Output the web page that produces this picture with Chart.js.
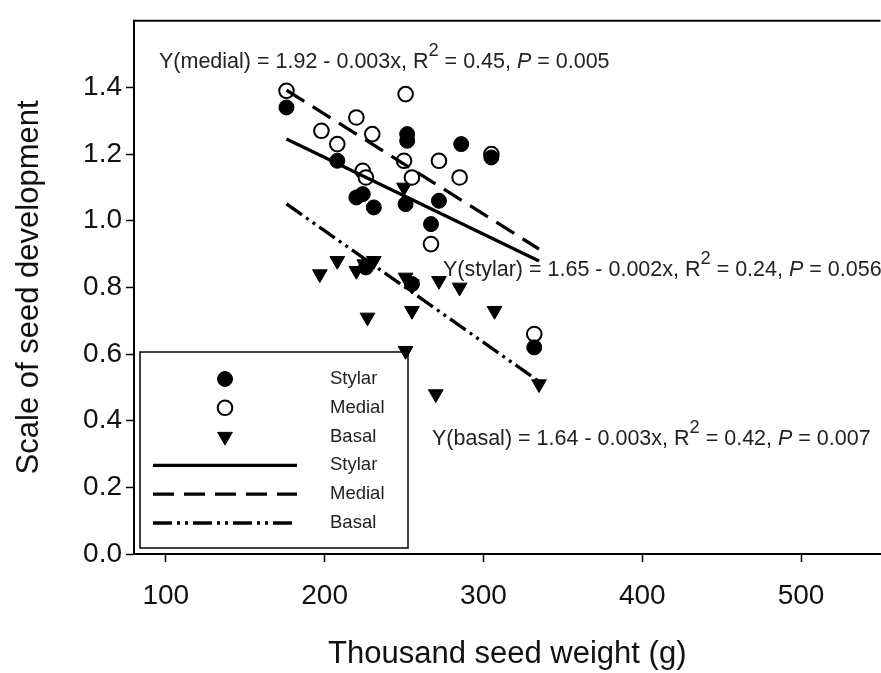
<!DOCTYPE html>
<html>
<head>
<meta charset="utf-8">
<script src="https://cdn.jsdelivr.net/npm/chart.js@4.4.1/dist/chart.umd.min.js"></script>
<style>
  html, body { margin: 0; padding: 0; background: #fff; overflow: hidden; }
  #wrap { position: relative; width: 890px; height: 673px; }
</style>
</head>
<body>
<div id="wrap"><canvas id="c" width="890" height="673"></canvas></div>
<script>
// Axis ticks
const xTicks = [100, 200, 300, 400, 500];
const yTicks = [0.0, 0.2, 0.4, 0.6, 0.8, 1.0, 1.2, 1.4];

// Seed development score by seed position vs thousand seed weight (g)
const stylarWeight = [176, 208, 220, 224, 231, 252, 252, 251, 272, 267, 286, 305, 255, 332, 226];
const stylarScale  = [1.34, 1.18, 1.07, 1.08, 1.04, 1.26, 1.24, 1.05, 1.06, 0.99, 1.23, 1.19, 0.81, 0.62, 0.86];

const medialWeight = [176, 198, 208, 220, 230, 224, 226, 251, 250, 255, 272, 285, 305, 267, 332];
const medialScale  = [1.39, 1.27, 1.23, 1.31, 1.26, 1.15, 1.13, 1.38, 1.18, 1.13, 1.18, 1.13, 1.20, 0.93, 0.66];

const basalWeight = [197, 208, 220, 225, 231, 251, 255, 272, 285, 227, 255, 307, 251, 270, 335, 250];
const basalScale  = [0.84, 0.88, 0.85, 0.87, 0.88, 0.83, 0.81, 0.82, 0.80, 0.71, 0.73, 0.73, 0.61, 0.48, 0.51, 1.10];

// Linear regressions: Y = intercept + slope * x
const fitNames      = ['stylar', 'medial', 'basal'];
const fitIntercepts = [1.65, 1.92, 1.64];
const fitSlopes     = [-0.0023, -0.003, -0.00335];
const fitR2         = [0.24, 0.45, 0.42];
const fitP          = ['0.056', '0.005', '0.007'];

const FONT = '"Liberation Sans", Arial, Helvetica, sans-serif';

const allWeights = stylarWeight.concat(medialWeight, basalWeight);
const xLo = Math.min(...allWeights);
const xHi = Math.max(...allWeights);

function pts(xs, ys) { return xs.map((x, i) => ({ x: x, y: ys[i] })); }
function fitLine(k) {
  return [xLo, xHi].map(x => ({ x: x, y: fitIntercepts[k] + fitSlopes[k] * x }));
}

const dashes = [[], [21, 10], [19, 5, 3, 5, 3, 5]];
const labels = ['Stylar', 'Medial', 'Basal'];

const pointSets = [
  { label: 'Stylar', data: pts(stylarWeight, stylarScale), pointStyle: 'circle', pointRadius: 7.5,
    backgroundColor: '#000', borderColor: '#000', pointBorderWidth: 1, pointRotation: 0 },
  { label: 'Medial', data: pts(medialWeight, medialScale), pointStyle: 'circle', pointRadius: 7.3,
    backgroundColor: '#fff', borderColor: '#000', pointBorderWidth: 2, pointRotation: 0 },
  { label: 'Basal', data: pts(basalWeight, basalScale), pointStyle: 'triangle', pointRadius: 8.5,
    backgroundColor: '#000', borderColor: '#000', pointBorderWidth: 1, pointRotation: 180 }
].map(d => Object.assign(d, { showLine: false, order: 1, kind: 'marker' }));

const lineSets = fitNames.map((n, k) => ({
  label: labels[k], data: fitLine(k), showLine: true, pointRadius: 0,
  borderColor: '#000', borderWidth: 3.3, borderDash: dashes[k], borderCapStyle: 'butt',
  fill: false, order: 0, kind: 'fit'
}));

// Framed legend inside the plot area
const boxLegend = {
  id: 'boxLegend',
  beforeDatasetsDraw(chart, args, o) {
    const ctx = chart.ctx;
    ctx.save();
    ctx.fillStyle = '#fff';
    ctx.fillRect(o.x, o.y, o.w, o.h);
    ctx.strokeStyle = '#000';
    ctx.lineWidth = 1.5;
    ctx.strokeRect(o.x, o.y, o.w, o.h);
    ctx.font = o.fontSize + 'px ' + FONT;
    ctx.textBaseline = 'middle';
    chart.data.datasets.forEach((ds, i) => {
      const cy = o.y + o.rowTop + i * o.rowGap;
      if (ds.kind === 'marker') {
        const cx = o.x + o.markerX;
        const r = ds.pointRadius;
        ctx.beginPath();
        if (ds.pointStyle === 'triangle') {
          ctx.moveTo(cx - r * 0.866, cy - r * 0.5);
          ctx.lineTo(cx + r * 0.866, cy - r * 0.5);
          ctx.lineTo(cx, cy + r);
          ctx.closePath();
        } else {
          ctx.arc(cx, cy, r, 0, Math.PI * 2);
        }
        ctx.fillStyle = ds.backgroundColor;
        ctx.fill();
        ctx.lineWidth = ds.pointBorderWidth;
        ctx.strokeStyle = ds.borderColor;
        ctx.stroke();
      } else {
        ctx.beginPath();
        ctx.setLineDash(ds.borderDash);
        ctx.lineWidth = ds.borderWidth;
        ctx.strokeStyle = ds.borderColor;
        ctx.moveTo(o.x + o.lineX0, cy);
        ctx.lineTo(o.x + o.lineX1, cy);
        ctx.stroke();
        ctx.setLineDash([]);
      }
      ctx.fillStyle = '#222';
      ctx.fillText(ds.label, o.x + o.textX, cy);
    });
    ctx.restore();
  }
};

// Regression equations with superscript and italic parts
const equations = {
  id: 'equations',
  afterDatasetsDraw(chart, args, o) {
    const ctx = chart.ctx;
    ctx.save();
    ctx.fillStyle = '#222';
    ctx.textBaseline = 'alphabetic';
    fitNames.forEach((n, k) => {
      const parts = [
        { t: 'Y(' + n + ') = ' + fitIntercepts[k].toFixed(2) + ' - ' + Math.abs(fitSlopes[k]).toFixed(3) + 'x, R' },
        { t: '2', sup: true },
        { t: ' = ' + fitR2[k].toFixed(2) + ', ' },
        { t: 'P', it: true },
        { t: ' = ' + fitP[k] }
      ];
      let x = o.pos[n][0];
      const y = o.pos[n][1];
      parts.forEach(p => {
        const fs = p.sup ? o.size * 0.85 : o.size;
        ctx.font = (p.it ? 'italic ' : '') + fs + 'px ' + FONT;
        ctx.fillText(p.t, x, p.sup ? y - o.size * 0.58 : y);
        x += ctx.measureText(p.t).width;
      });
    });
    ctx.restore();
  }
};

// Top edge of the plot frame
const topFrame = {
  id: 'topFrame',
  afterDraw(chart) {
    const { ctx, chartArea: a } = chart;
    ctx.save();
    ctx.strokeStyle = '#000';
    ctx.lineWidth = 2;
    ctx.beginPath();
    ctx.moveTo(a.left - 1, a.top);
    ctx.lineTo(a.right, a.top);
    ctx.stroke();
    ctx.restore();
  }
};

new Chart(document.getElementById('c'), {
  type: 'scatter',
  data: { datasets: pointSets.concat(lineSets) },
  plugins: [boxLegend, equations, topFrame],
  options: {
    responsive: false,
    animation: false,
    devicePixelRatio: 1,
    layout: { padding: { top: 15, right: 7, bottom: 0, left: 0 } },
    plugins: {
      legend: { display: false },
      tooltip: { enabled: false },
      boxLegend: { x: 140, y: 352, w: 268, h: 196, rowTop: 27, rowGap: 28.8,
                   markerX: 85, lineX0: 13, lineX1: 157, textX: 190, fontSize: 18.5 },
      equations: { size: 21.5, pos: { medial: [159, 68], stylar: [443, 276], basal: [432, 445] } }
    },
    scales: {
      x: {
        type: 'linear', min: 80, max: 550,
        afterBuildTicks: s => { s.ticks = xTicks.map(v => ({ value: v })); },
        afterFit: s => { s.height = 119; },
        grid: { display: true, drawOnChartArea: false, drawTicks: true, tickLength: 8, tickWidth: 1.5, color: '#000' },
        border: { display: true, color: '#000', width: 2 },
        ticks: { color: '#111', font: { family: FONT, size: 28 }, padding: 17, maxRotation: 0 },
        title: { display: true, text: 'Thousand seed weight (g)', color: '#111',
                 font: { family: FONT, size: 31 }, padding: { top: 0, bottom: 0 } }
      },
      y: {
        type: 'linear', min: 0, max: 1.6,
        afterBuildTicks: s => { s.ticks = yTicks.map(v => ({ value: v })); },
        afterFit: s => { s.width = 134; },
        grid: { display: true, drawOnChartArea: false, drawTicks: true, tickLength: 8, tickWidth: 1.5, color: '#000' },
        border: { display: true, color: '#000', width: 2 },
        ticks: { color: '#111', font: { family: FONT, size: 28 }, padding: 4,
                 callback: v => Number(v).toFixed(1) },
        title: { display: true, text: 'Scale of seed development', color: '#111',
                 font: { family: FONT, size: 31 }, padding: { top: 11, bottom: 0 } }
      }
    }
  }
});
</script>
</body>
</html>
